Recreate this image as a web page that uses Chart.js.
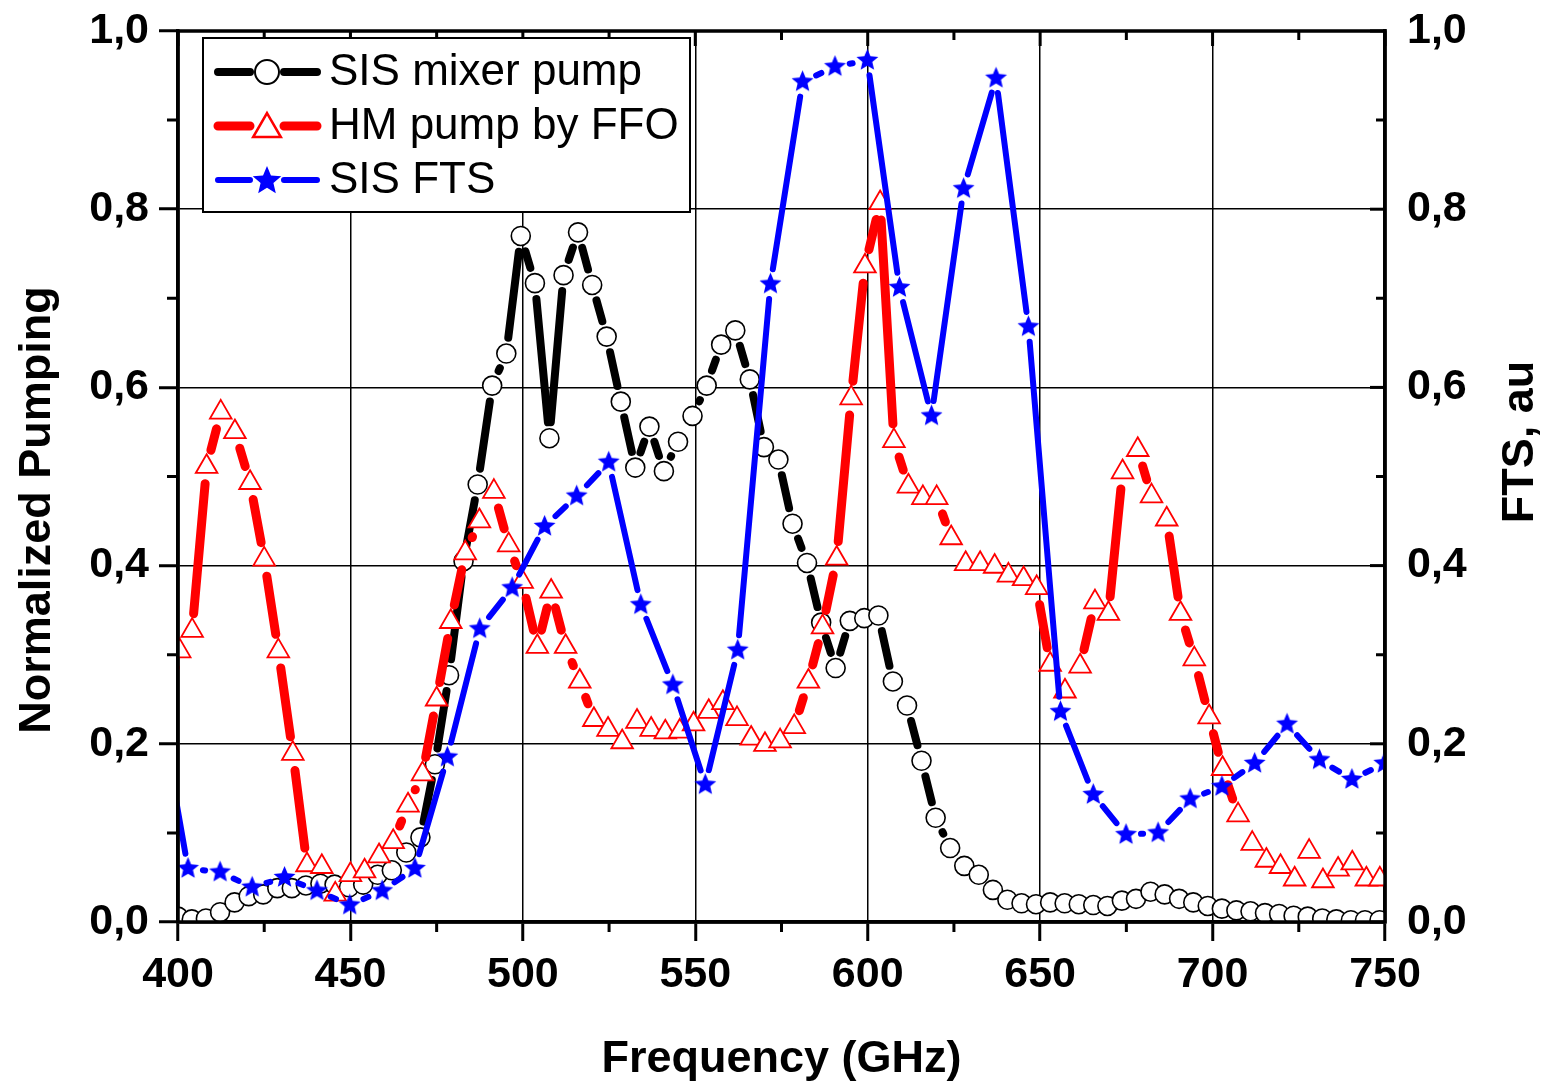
<!DOCTYPE html>
<html>
<head>
<meta charset="utf-8">
<script src="https://cdn.jsdelivr.net/npm/chart.js@4.4.1/dist/chart.umd.min.js"></script>
<style>
  html, body { margin: 0; padding: 0; background: #fff; }
  #wrap { width: 1547px; height: 1084px; }
</style>
</head>
<body>
<div id="wrap"><canvas id="chart" width="1547" height="1084"></canvas></div>
<script>
// ---- data ----
var xTicks = [400, 450, 500, 550, 600, 650, 700, 750];
var yTicks = [0, 0.2, 0.4, 0.6, 0.8, 1.0];

// SIS mixer pump (black, circles)
var sisFreq = [400.0, 404.0, 408.1, 412.2, 416.4, 420.5, 424.7, 428.8, 433.0, 437.1,
    441.3, 445.4, 449.6, 453.7, 457.9, 462.0, 466.2, 470.3, 474.5, 478.6,
    482.8, 486.9, 491.1, 495.2, 499.4, 503.5, 507.7, 511.8, 516.0, 520.1,
    524.3, 528.4, 532.6, 536.7, 540.9, 545.0, 549.2, 553.3, 557.5, 561.6,
    565.8, 569.9, 574.1, 578.2, 582.4, 586.5, 590.7, 594.8, 599.0, 603.1,
    607.3, 611.4, 615.6, 619.7, 623.9, 628.0, 632.2, 636.3, 640.5, 644.6,
    648.8, 652.9, 657.1, 661.2, 665.4, 669.5, 673.7, 677.8, 682.0, 686.1,
    690.3, 694.4, 698.6, 702.7, 706.9, 711.0, 715.2, 719.3, 723.5, 727.6,
    731.8, 735.9, 740.1, 744.2, 748.4];
var sisPump = [0.006, 0.003, 0.004, 0.011, 0.022, 0.029, 0.031, 0.038, 0.038, 0.041,
    0.043, 0.042, 0.039, 0.042, 0.053, 0.058, 0.078, 0.095, 0.177, 0.277,
    0.405, 0.491, 0.602, 0.638, 0.770, 0.717, 0.543, 0.726, 0.774, 0.715,
    0.657, 0.584, 0.510, 0.556, 0.506, 0.539, 0.568, 0.602, 0.648, 0.664,
    0.609, 0.533, 0.519, 0.447, 0.403, 0.336, 0.285, 0.338, 0.341, 0.344,
    0.270, 0.243, 0.181, 0.117, 0.083, 0.063, 0.053, 0.036, 0.025, 0.021,
    0.020, 0.022, 0.021, 0.020, 0.019, 0.018, 0.024, 0.026, 0.034, 0.031,
    0.026, 0.022, 0.018, 0.015, 0.013, 0.012, 0.010, 0.009, 0.007, 0.006,
    0.004, 0.003, 0.002, 0.002, 0.002];

// HM pump by FFO (red, triangles)
var hmFreq = [395.9, 400.5, 404.1, 408.3, 412.4, 416.5, 420.9, 425.0, 429.1, 433.3,
    437.4, 441.7, 445.6, 450.0, 454.1, 458.3, 462.4, 466.7, 470.9, 475.0,
    479.1, 483.3, 487.4, 491.6, 495.9, 499.8, 504.2, 508.2, 512.4, 516.5,
    520.6, 524.7, 528.8, 533.1, 537.2, 541.3, 545.5, 549.5, 553.9, 558.0,
    562.1, 566.2, 570.2, 574.6, 578.7, 582.8, 586.9, 591.0, 595.2, 599.2,
    603.6, 607.6, 611.8, 616.0, 620.0, 624.2, 628.4, 632.6, 636.8, 640.8,
    645.2, 649.0, 652.9, 657.2, 661.6, 665.9, 669.8, 673.9, 678.3, 682.3,
    686.7, 690.7, 694.7, 699.0, 702.9, 707.4, 711.5, 715.6, 719.7, 723.8,
    728.0, 732.0, 736.4, 740.5, 744.6, 748.5];
var hmPump = [0.240, 0.304, 0.327, 0.511, 0.572, 0.550, 0.493, 0.407, 0.304, 0.189,
    0.064, 0.062, 0.031, 0.053, 0.057, 0.074, 0.090, 0.131, 0.166, 0.250,
    0.337, 0.414, 0.450, 0.483, 0.423, 0.382, 0.309, 0.371, 0.309, 0.270,
    0.227, 0.216, 0.202, 0.225, 0.216, 0.213, 0.214, 0.222, 0.236, 0.246,
    0.228, 0.206, 0.199, 0.203, 0.219, 0.270, 0.331, 0.408, 0.588, 0.736,
    0.807, 0.540, 0.489, 0.476, 0.476, 0.431, 0.402, 0.402, 0.399, 0.389,
    0.385, 0.375, 0.289, 0.259, 0.287, 0.359, 0.346, 0.505, 0.530, 0.478,
    0.452, 0.346, 0.295, 0.230, 0.172, 0.120, 0.088, 0.069, 0.062, 0.048,
    0.079, 0.046, 0.059, 0.066, 0.048, 0.048];

// SIS FTS (blue, stars, right axis)
var ftsFreq = [393.4, 402.9, 412.2, 421.5, 430.9, 440.3, 449.8, 459.2, 468.7, 478.1,
    487.5, 496.9, 506.3, 515.6, 524.9, 534.2, 543.5, 552.9, 562.3, 571.8,
    581.1, 590.5, 599.9, 609.2, 618.5, 627.8, 637.2, 646.6, 655.9, 665.4,
    674.9, 684.2, 693.5, 702.7, 712.2, 721.6, 731.0, 740.4, 749.8];
var ftsVal = [0.270, 0.060, 0.056, 0.039, 0.050, 0.035, 0.019, 0.035, 0.060, 0.185,
    0.329, 0.375, 0.444, 0.478, 0.516, 0.356, 0.266, 0.154, 0.305, 0.716,
    0.943, 0.960, 0.967, 0.712, 0.568, 0.823, 0.947, 0.668, 0.236, 0.143,
    0.098, 0.100, 0.138, 0.152, 0.178, 0.222, 0.182, 0.160, 0.178];

var FONT = '"Liberation Sans", Arial, Helvetica, sans-serif';

function pairs(xs, ys) {
    return xs.map(function (x, i) { return {x: x, y: ys[i]}; });
}

// filled five point star used as point style
function makeStar(R, color) {
    var c = document.createElement('canvas');
    var s = Math.ceil(R * 2 + 2);
    c.width = s;
    c.height = s;
    var g = c.getContext('2d');
    g.fillStyle = color;
    g.beginPath();
    for (var i = 0; i < 10; i++) {
        var r = i % 2 ? R * 0.45 : R;
        var a = -Math.PI / 2 + i * Math.PI / 5;
        var px = s / 2 + r * Math.cos(a), py = s / 2 + r * Math.sin(a);
        if (i) g.lineTo(px, py); else g.moveTo(px, py);
    }
    g.closePath();
    g.fill();
    return c;
}
var starPt = makeStar(11.5, '#0000ff');
var starLeg = makeStar(15, '#0000ff');

// Origin-like line: each segment stops short of the markers
function gapSegment(gap, color) {
    function len(ctx) {
        return Math.hypot(ctx.p1.x - ctx.p0.x, ctx.p1.y - ctx.p0.y);
    }
    return {
        borderDash: function (ctx) {
            var L = len(ctx), d = L - 2 * gap;
            return d > 0 ? [d, 2 * gap + 3000] : [1, L + 3000];
        },
        borderDashOffset: -gap,
        borderColor: function (ctx) {
            return len(ctx) - 2 * gap > 0 ? color : 'rgba(0,0,0,0)';
        }
    };
}

// minor ticks, inward ticks on top/right, frame drawn over markers
var frame = {
    id: 'frame',
    afterDatasetsDraw: function (chart) {
        var ctx = chart.ctx, a = chart.chartArea;
        var x = chart.scales.x, y = chart.scales.y;
        ctx.save();
        ctx.strokeStyle = '#000';
        ctx.lineCap = 'butt';
        ctx.lineWidth = 3;
        var v, px, py, big;
        for (v = 400; v <= 750; v += 25) {
            px = x.getPixelForValue(v);
            big = v % 50 === 0;
            ctx.beginPath();
            if (!big) { ctx.moveTo(px, a.bottom); ctx.lineTo(px, a.bottom + 10); }
            ctx.moveTo(px, a.top);
            ctx.lineTo(px, a.top + (big ? 15 : 9));
            ctx.stroke();
        }
        for (var k = 0; k <= 10; k++) {
            v = k / 10;
            py = y.getPixelForValue(v);
            big = k % 2 === 0;
            ctx.beginPath();
            if (!big) { ctx.moveTo(a.left, py); ctx.lineTo(a.left - 11, py); }
            ctx.moveTo(a.right, py);
            ctx.lineTo(a.right - (big ? 15 : 9), py);
            ctx.stroke();
        }
        ctx.lineWidth = 3.5;
        ctx.beginPath();
        ctx.rect(a.left, a.top, a.right - a.left, a.bottom - a.top);
        ctx.stroke();
        ctx.restore();
    }
};

// axis titles and the boxed legend
var labels = {
    id: 'labels',
    afterDraw: function (chart) {
        var ctx = chart.ctx, a = chart.chartArea;
        ctx.save();
        ctx.fillStyle = '#000';
        ctx.font = 'bold 45px ' + FONT;
        ctx.textAlign = 'center';
        ctx.textBaseline = 'alphabetic';
        ctx.fillText('Frequency (GHz)', (a.left + a.right) / 2, 1072);

        ctx.save();
        ctx.translate(50, 510);
        ctx.rotate(-Math.PI / 2);
        ctx.fillText('Normalized Pumping', 0, 0);
        ctx.restore();

        ctx.save();
        ctx.translate(1533, 442);
        ctx.rotate(-Math.PI / 2);
        ctx.fillText('FTS, au', 0, 0);
        ctx.restore();

        // legend
        var bx = 203, by = 38, bw = 487, bh = 174;
        ctx.fillStyle = '#fff';
        ctx.fillRect(bx, by, bw, bh);
        ctx.strokeStyle = '#000';
        ctx.lineWidth = 2;
        ctx.strokeRect(bx, by, bw, bh);

        var rows = chart.data.datasets;
        ctx.font = '44px ' + FONT;
        ctx.textAlign = 'left';
        ctx.textBaseline = 'middle';
        rows.forEach(function (ds, i) {
            var cy = 72 + i * 54, cx = 267;
            ctx.strokeStyle = ds.borderColor;
            ctx.lineWidth = ds.borderWidth;
            ctx.lineCap = 'round';
            ctx.beginPath();
            ctx.moveTo(218, cy); ctx.lineTo(250, cy);
            ctx.moveTo(284, cy); ctx.lineTo(317, cy);
            ctx.stroke();
            if (ds.pointStyle === 'circle') {
                ctx.fillStyle = '#fff';
                ctx.strokeStyle = ds.pointBorderColor;
                ctx.lineWidth = 2;
                ctx.beginPath();
                ctx.arc(cx, cy, 12, 0, Math.PI * 2);
                ctx.fill();
                ctx.stroke();
            } else if (ds.pointStyle === 'triangle') {
                var r = 16;
                ctx.fillStyle = '#fff';
                ctx.strokeStyle = ds.pointBorderColor;
                ctx.lineWidth = 2.5;
                ctx.lineJoin = 'miter';
                ctx.beginPath();
                for (var j = 0; j < 3; j++) {
                    var ang = j * 2 * Math.PI / 3;
                    var tx = cx + Math.sin(ang) * r, ty = cy + 3 - Math.cos(ang) * r;
                    if (j) ctx.lineTo(tx, ty); else ctx.moveTo(tx, ty);
                }
                ctx.closePath();
                ctx.fill();
                ctx.stroke();
            } else {
                ctx.drawImage(starLeg, cx - starLeg.width / 2, cy - starLeg.height / 2 + 1);
            }
            ctx.fillStyle = '#000';
            ctx.fillText(ds.label, 329, cy + 1);
        });
        ctx.restore();
    }
};

var tickFont = {family: FONT, size: 43, weight: 'bold'};

// vertical scales: fixed width, no extra padding so the plot top sits at 31px
function fixY(w) {
    return function (s) {
        s.width = w;
        s.paddingTop = 0;
        s.paddingBottom = 0;
    };
}

new Chart(document.getElementById('chart'), {
    type: 'line',
    data: {
        datasets: [
            {
                label: 'SIS mixer pump',
                data: pairs(sisFreq, sisPump),
                yAxisID: 'y',
                order: 2,
                borderColor: '#000000',
                borderWidth: 8,
                borderCapStyle: 'round',
                pointStyle: 'circle',
                pointRadius: 9.5,
                pointBorderWidth: 1.6,
                pointBorderColor: '#000000',
                pointBackgroundColor: '#ffffff',
                segment: gapSegment(16, '#000000')
            },
            {
                label: 'HM pump by FFO',
                data: pairs(hmFreq, hmPump),
                yAxisID: 'y',
                order: 1,
                borderColor: '#ff0000',
                borderWidth: 9,
                borderCapStyle: 'round',
                pointStyle: 'triangle',
                pointRadius: 12.5,
                pointBorderWidth: 1.8,
                pointBorderColor: '#ff0000',
                pointBackgroundColor: '#ffffff',
                segment: gapSegment(17, '#ff0000')
            },
            {
                label: 'SIS FTS',
                data: pairs(ftsFreq, ftsVal),
                yAxisID: 'y2',
                order: 0,
                borderColor: '#0000ff',
                borderWidth: 6,
                borderCapStyle: 'round',
                pointStyle: starPt,
                pointRadius: 11,
                pointBorderWidth: 0,
                pointBackgroundColor: '#0000ff',
                segment: gapSegment(15, '#0000ff')
            }
        ]
    },
    options: {
        responsive: false,
        animation: false,
        devicePixelRatio: 1,
        layout: {padding: {top: 31, left: 0, right: 0, bottom: 0}},
        plugins: {legend: {display: false}, tooltip: {enabled: false}},
        scales: {
            x: {
                type: 'linear',
                min: 400,
                max: 750,
                afterBuildTicks: function (s) { s.ticks = xTicks.map(function (v) { return {value: v}; }); },
                afterFit: function (s) { s.height = 162; s.paddingLeft = 0; s.paddingRight = 0; },
                ticks: {font: tickFont, color: '#000', padding: 8, maxRotation: 0,
                    callback: function (v) { return String(v); }},
                grid: {color: '#000', lineWidth: 1.5, drawTicks: true, tickLength: 19,
                    tickWidth: 3, tickColor: '#000'},
                border: {display: true, color: '#000', width: 3.5}
            },
            y: {
                min: 0,
                max: 1,
                afterBuildTicks: function (s) { s.ticks = yTicks.map(function (v) { return {value: v}; }); },
                afterFit: fixY(178),
                ticks: {font: tickFont, color: '#000', padding: 10,
                    callback: function (v) { return v.toFixed(1).replace('.', ','); }},
                grid: {color: '#000', lineWidth: 1.5, drawTicks: true, tickLength: 19,
                    tickWidth: 3, tickColor: '#000'},
                border: {display: true, color: '#000', width: 3.5}
            },
            y2: {
                position: 'right',
                min: 0,
                max: 1,
                afterBuildTicks: function (s) { s.ticks = yTicks.map(function (v) { return {value: v}; }); },
                afterFit: fixY(162),
                ticks: {font: tickFont, color: '#000', padding: 22,
                    callback: function (v) { return v.toFixed(1).replace('.', ','); }},
                grid: {drawOnChartArea: false, drawTicks: false},
                border: {display: true, color: '#000', width: 3.5}
            }
        }
    },
    plugins: [frame, labels]
});
</script>
</body>
</html>
